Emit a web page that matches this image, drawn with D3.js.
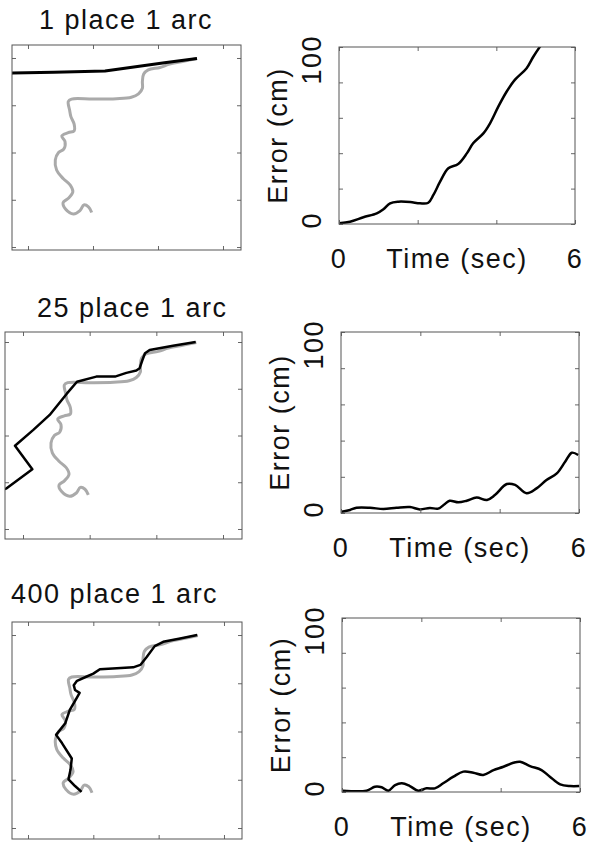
<!DOCTYPE html>
<html>
<head>
<meta charset="utf-8">
<script src="https://cdn.jsdelivr.net/npm/d3@7"></script>
<style>
  body { margin: 0; background: #fff; }
  text { font-family: "Liberation Sans", Arial, Helvetica, sans-serif; font-size: 27px; letter-spacing: 1.5px; fill: #111; }
</style>
</head>
<body>
<script>
// titles of the three rows
const titles = ["1 place 1 arc", "25 place 1 arc", "400 place 1 arc"];

// true path (grey), same in every row, in tick units
const trueX = [2.60, 2.36, 2.18, 2.03, 1.85, 1.78, 1.76, 1.76, 1.70, 1.59, 1.36, 1.00, 0.67, 0.62, 0.64, 0.66, 0.71, 0.71, 0.62, 0.52, 0.57, 0.55, 0.47, 0.42, 0.44, 0.54, 0.65, 0.69, 0.62, 0.54, 0.58, 0.70, 0.80, 0.86, 0.93, 0.98];
const trueY = [3.99, 3.92, 3.87, 3.80, 3.75, 3.66, 3.50, 3.36, 3.24, 3.17, 3.14, 3.13, 3.13, 3.08, 2.90, 2.76, 2.60, 2.46, 2.42, 2.35, 2.23, 2.07, 2.00, 1.84, 1.63, 1.45, 1.31, 1.17, 1.03, 0.94, 0.80, 0.70, 0.77, 0.89, 0.85, 0.73];

// estimated paths (black)
const est1X = [2.60, 2.10, 1.185, 0.40, -0.24, -0.40];
const est1Y = [3.99, 3.90, 3.725, 3.70, 3.68, 3.675];
const est2X = [2.59, 2.25, 1.90, 1.83, 1.79, 1.75, 1.70, 1.55, 1.38, 1.10, 0.81, 0.66, 0.40, 0.155, -0.12, 0.14, -0.245, -0.40];
const est2Y = [4.00, 3.92, 3.83, 3.76, 3.61, 3.44, 3.39, 3.34, 3.26, 3.26, 3.15, 2.90, 2.44, 2.12, 1.78, 1.28, 0.87, 0.78];
const est3X = [2.59, 2.33, 2.07, 1.94, 1.82, 1.72, 1.61, 1.36, 1.10, 1.00, 0.90, 0.75, 0.70, 0.72, 0.79, 0.74, 0.64, 0.57, 0.43, 0.52, 0.67, 0.65, 0.62, 0.72, 0.82];
const est3Y = [4.00, 3.93, 3.86, 3.77, 3.55, 3.38, 3.33, 3.31, 3.29, 3.20, 3.14, 3.05, 2.96, 2.86, 2.80, 2.68, 2.45, 2.17, 1.93, 1.76, 1.44, 1.20, 1.01, 0.87, 0.75];

// error over time (cm)
const time1 = [0, 0.28, 0.62, 0.96, 1.13, 1.30, 1.51, 1.81, 2.06, 2.27, 2.40, 2.57, 2.78, 3.03, 3.25, 3.41, 3.67, 3.84, 4.05, 4.26, 4.47, 4.77, 4.94, 5.11, 5.20];
const error1 = [0.4, 1.3, 3.8, 6.0, 8.3, 11.7, 12.6, 12.4, 11.7, 12.0, 16.4, 23.9, 31.5, 33.9, 39.9, 45.6, 51.2, 56.9, 66.3, 74.7, 81.4, 88.0, 94.5, 100.2, 103];
const time2 = [0.02, 0.23, 0.39, 0.73, 1.07, 1.40, 1.74, 1.99, 2.24, 2.45, 2.62, 2.74, 2.96, 3.17, 3.42, 3.68, 3.88, 4.18, 4.39, 4.68, 4.93, 5.18, 5.44, 5.65, 5.82, 5.98];
const error2 = [0.7, 1.7, 2.9, 2.9, 2.2, 2.9, 3.3, 2.0, 2.8, 2.4, 5.0, 6.8, 5.9, 6.8, 8.5, 7.2, 9.9, 16.0, 15.5, 10.9, 13.6, 18.2, 21.9, 28.3, 33.3, 32.0];
const time3 = [0.02, 0.62, 0.83, 1.00, 1.17, 1.34, 1.51, 1.71, 1.92, 2.13, 2.34, 2.55, 2.81, 3.06, 3.31, 3.56, 3.82, 4.07, 4.32, 4.49, 4.74, 5.03, 5.24, 5.50, 5.75, 5.98];
const error3 = [0.75, 0.75, 3.0, 2.7, 0.75, 4.0, 5.0, 3.4, 0.75, 2.1, 2.1, 5.0, 8.8, 11.7, 11.1, 9.8, 12.6, 14.5, 16.8, 17.4, 14.9, 12.6, 8.8, 4.4, 3.4, 3.4];

// ticks and labels
const pathTicksX = [0, 1, 2, 3];
const pathTicksY = [0, 1, 2, 3, 4];
const timeTicks = [0, 2, 4, 6];
const errorTicks = [0, 20, 40, 60, 80, 100];
const timeLabels = [0, 6];
const errorLabels = [0, 100];
const timeTitle = "Time (sec)";
const errorTitle = "Error (cm)";

const estX = [est1X, est2X, est3X];
const estY = [est1Y, est2Y, est3Y];
const times = [time1, time2, time3];
const errors = [error1, error2, error3];

// layout of each row (pixel boxes and axis limits)
const rows = [
    { left: [12, 241, 45, 250], xlim: [-0.246, 3.277], ylim: [-0.063, 4.275], right: [339, 575, 47, 224], tx: 39, ty: 29, estWidth: 3 },
    { left: [5, 242, 332, 539], xlim: [-0.27, 3.285], ylim: [-0.214, 4.214], right: [341, 579, 332, 513], tx: 37, ty: 317, estWidth: 2.5 },
    { left: [12, 242, 622, 839], xlim: [-0.245, 3.276], ylim: [-0.228, 4.27], right: [342, 580, 618, 792], tx: 11, ty: 603, estWidth: 2.5 }
];

const svg = d3.select("body")
    .append("svg")
    .attr("width", 592)
    .attr("height", 846);

// box with inward ticks on all four sides
function frame(g, x, y, xt, yt) {
    const [x0, x1] = x.range();
    const [y1, y0] = y.range();
    g.append("g").attr("transform", "translate(0," + y1 + ")")
        .call(d3.axisBottom(x).tickValues(xt).tickSize(-4).tickFormat(""));
    g.append("g").attr("transform", "translate(0," + y0 + ")")
        .call(d3.axisTop(x).tickValues(xt).tickSize(-4).tickFormat(""));
    g.append("g").attr("transform", "translate(" + x0 + ",0)")
        .call(d3.axisLeft(y).tickValues(yt).tickSize(-4).tickFormat(""));
    g.append("g").attr("transform", "translate(" + x1 + ",0)")
        .call(d3.axisRight(y).tickValues(yt).tickSize(-4).tickFormat(""));
    g.selectAll(".domain").remove();
    g.selectAll(".tick line").attr("stroke", "#666");
    g.append("rect")
        .attr("x", x0).attr("y", y0)
        .attr("width", x1 - x0).attr("height", y1 - y0)
        .attr("fill", "none")
        .attr("stroke", "#555")
        .attr("stroke-width", 1);
}

function clip(id, x, y) {
    const [x0, x1] = x.range();
    const [y1, y0] = y.range();
    svg.append("clipPath").attr("id", id)
        .append("rect")
        .attr("x", x0).attr("y", y0)
        .attr("width", x1 - x0).attr("height", y1 - y0);
}

rows.forEach(function (r, i) {
    /**
     * path panel
     */
    const x = d3.scaleLinear().domain(r.xlim).range([r.left[0], r.left[1]]);
    const y = d3.scaleLinear().domain(r.ylim).range([r.left[3], r.left[2]]);
    const gl = svg.append("g");
    clip("clipL" + i, x, y);

    const line = d3.line()
        .x(function (d) { return x(d[0]); })
        .y(function (d) { return y(d[1]); });

    gl.append("path")
        .datum(d3.zip(trueX, trueY))
        .attr("clip-path", "url(#clipL" + i + ")")
        .attr("fill", "none")
        .attr("stroke", "#aaa")
        .attr("stroke-width", 3)
        .attr("stroke-linejoin", "round")
        .attr("d", line.curve(d3.curveCatmullRom));

    gl.append("path")
        .datum(d3.zip(estX[i], estY[i]))
        .attr("clip-path", "url(#clipL" + i + ")")
        .attr("fill", "none")
        .attr("stroke", "#000")
        .attr("stroke-width", r.estWidth)
        .attr("stroke-linejoin", "round")
        .attr("d", line.curve(d3.curveLinear));

    frame(gl, x, y, pathTicksX, pathTicksY);

    gl.append("text")
        .attr("x", r.tx)
        .attr("y", r.ty)
        .text(titles[i]);

    /**
     * error panel
     */
    const xe = d3.scaleLinear().domain([0, 6]).range([r.right[0], r.right[1]]);
    const ye = d3.scaleLinear().domain([0, 100]).range([r.right[3], r.right[2]]);
    const gr = svg.append("g");
    clip("clipR" + i, xe, ye);

    gr.append("path")
        .datum(d3.zip(times[i], errors[i]))
        .attr("clip-path", "url(#clipR" + i + ")")
        .attr("fill", "none")
        .attr("stroke", "#000")
        .attr("stroke-width", 2.5)
        .attr("d", d3.line()
            .x(function (d) { return xe(d[0]); })
            .y(function (d) { return ye(d[1]); })
            .curve(d3.curveCatmullRom));

    frame(gr, xe, ye, timeTicks, errorTicks);

    const bottom = r.right[3];
    gr.selectAll(".tlab")
        .data(timeLabels)
        .enter().append("text")
        .attr("x", function (d) { return xe(d); })
        .attr("y", bottom + 44)
        .attr("text-anchor", "middle")
        .text(function (d) { return d; });

    gr.append("text")
        .attr("x", (r.right[0] + r.right[1]) / 2)
        .attr("y", bottom + 44)
        .attr("text-anchor", "middle")
        .text(timeTitle);

    gr.selectAll(".elab")
        .data(errorLabels)
        .enter().append("text")
        .attr("transform", function (d) {
            return "translate(" + (r.right[0] - 18) + "," + (ye(d) - 12) + ") rotate(-90)";
        })
        .attr("text-anchor", "end")
        .text(function (d) { return d; });

    gr.append("text")
        .attr("transform", "translate(" + (r.right[0] - 52) + "," + ((r.right[2] + r.right[3]) / 2) + ") rotate(-90)")
        .attr("text-anchor", "middle")
        .text(errorTitle);
});
</script>
</body>
</html>
